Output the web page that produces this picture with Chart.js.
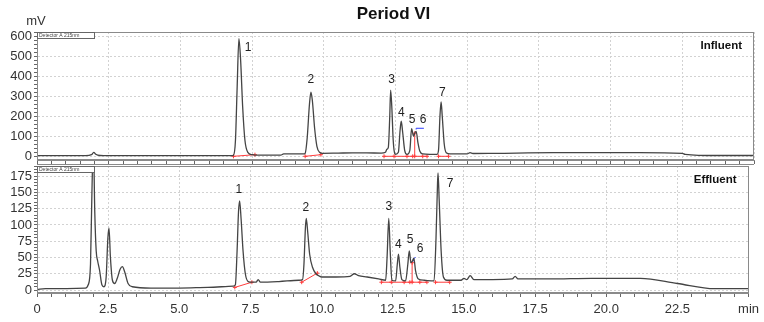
<!DOCTYPE html>
<html>
<head>
<meta charset="utf-8">
<script src="https://cdn.jsdelivr.net/npm/chart.js@4.4.1/dist/chart.umd.min.js"></script>
<style>
    body { margin: 0; background: #fff; }
    #wrap { position: relative; width: 764px; height: 322px; }
    canvas { position: absolute; left: 0; top: 0; }
</style>
</head>
<body>
<div id="wrap">
    <canvas id="effluentChart" width="764" height="322"></canvas>
    <canvas id="influentChart" width="764" height="322"></canvas>
</div>
<script>
// chromatogram traces (time in min, signal in mV)
const influentTime = [0, 1.7, 1.9, 1.98, 2.05, 2.2, 2.5, 6.8,
    6.85, 6.92, 6.98, 7.04, 7.1, 7.17, 7.25, 7.35, 7.5, 7.6, 8.5, 8.6, 9.3,
    9.35, 9.42, 9.5, 9.55, 9.6, 9.68, 9.76, 9.85, 9.95, 10.5, 11.0, 11.5, 12.0, 12.15,
    12.2, 12.25, 12.3, 12.33, 12.37, 12.42, 12.47, 12.5, 12.6, 12.66, 12.7, 12.75, 12.82, 12.9,
    13.0, 13.06, 13.13, 13.17, 13.22, 13.28, 13.35, 13.45, 13.7, 13.95,
    14.0, 14.05, 14.09, 14.13, 14.2, 14.27, 14.4, 15.0, 15.1, 15.2, 16.0, 18.0, 21.0, 22.5, 22.6, 23.7, 25];
const influentSignal = [3, 3, 8, 20, 10, 4, 3, 3,
    5, 80, 350, 588, 480, 250, 80, 20, 8, 6, 6, 12, 12,
    15, 90, 260, 320, 280, 140, 50, 20, 15, 16, 17, 17, 16, 20,
    35, 45, 200, 330, 250, 80, 15, 10, 20, 130, 175, 120, 30, 10,
    30, 138, 100, 115, 125, 70, 25, 12, 10, 10,
    30, 200, 272, 200, 60, 18, 12, 12, 18, 14, 15, 18, 18, 15, 10, 4, 4];

const effluentTime = [0, 0.3, 1.7, 1.8, 1.88, 1.93, 1.98, 2.03, 2.08, 2.13, 2.2, 2.28, 2.35,
    2.43, 2.49, 2.53, 2.58, 2.65, 2.73, 2.82, 2.92, 3.0, 3.08, 3.2, 3.35, 4.0, 5.0, 6.0, 6.9,
    6.97, 7.03, 7.08, 7.12, 7.17, 7.24, 7.32, 7.42, 7.55, 7.7, 7.77, 7.85, 8.5, 9.2, 9.33,
    9.38, 9.43, 9.46, 9.51, 9.58, 9.68, 9.8, 9.9, 10.0, 10.5, 11.0, 11.15, 11.3, 11.6, 12.0, 12.25,
    12.3, 12.36, 12.41, 12.47, 12.6, 12.66, 12.7, 12.75, 12.82, 12.95, 13.03, 13.08, 13.14, 13.2,
    13.24, 13.3, 13.4, 13.6, 13.95, 14.02, 14.07, 14.09, 14.13, 14.2, 14.28, 14.4, 14.9, 15.0,
    15.1, 15.22, 15.35, 16.0, 16.7, 16.8, 16.9, 18.0, 19.5, 21.2, 22.5, 23.8, 25];
const effluentSignal = [1, 2, 3, 8, 40, 150, 230, 120, 60, 45, 30, 8, 5,
    20, 80, 95, 50, 15, 10, 18, 32, 36, 28, 10, 5, 3, 3, 4, 6,
    8, 60, 120, 137, 110, 60, 25, 13, 12, 12, 16, 12, 13, 15, 16,
    40, 95, 110, 90, 55, 35, 25, 22, 20, 20, 21, 25, 22, 20, 17, 15,
    50, 110, 60, 15, 14, 40, 55, 35, 16, 14, 40, 60, 42, 45,
    49, 30, 17, 15, 14, 80, 160, 180, 140, 60, 20, 15, 15, 18,
    16, 22, 16, 16, 17, 21, 17, 17, 18, 18, 10, 2, 2];

// red integration baselines (null breaks the line)
const influentBaseTime = [6.85, 7.6, null, 9.35, 9.9, null, 12.1, 12.45, 12.9, 13.1, 13.45, 13.6, null, 13.17, 13.17, null, 14.0, 14.35];
const influentBaseSignal = [0, 8, null, 0, 8, null, 0, 0, 0, 0, 0, 0, null, 0, 115, null, 0, 0];
const effluentBaseTime = [6.95, 7.55, null, 9.3, 9.85, null, 12.1, 12.45, 12.9, 13.1, 13.45, 13.7, null, 13.18, 13.18, null, 14.0, 14.5];
const effluentBaseSignal = [4, 12, null, 12, 26, null, 12, 12, 12, 12, 12, 12, null, 12, 42, null, 12, 12];

// small blue marks at peak 6
const influentMarkTime = [13.22, 13.22, 13.49];
const influentMarkSignal = [134, 140, 140];
const effluentMarkTime = [13.22, 13.22, 13.3];
const effluentMarkSignal = [44, 48, 50];

// peak numbers and where they sit
const peakLabels = ["1", "2", "3", "4", "5", "6", "7"];
const influentLabelTime = [7.36, 9.55, 12.36, 12.70, 13.08, 13.46, 14.13];
const influentLabelSignal = [543, 381, 383, 218, 181, 181, 318];
const effluentLabelTime = [7.09, 9.45, 12.36, 12.70, 13.11, 13.46, 14.51];
const effluentLabelSignal = [154, 126, 128, 69, 77, 63, 163];

const FONT = "Arial, 'Liberation Sans', sans-serif";

function toPoints(xs, ys) {
    return xs.map((x, i) => ({ x: x, y: ys[i] }));
}

function isMultiple(value, step) {
    return Math.abs(value / step - Math.round(value / step)) < 1e-6;
}

const panelDecor = {
    id: "panelDecor",
    afterDraw(chart, args, opts) {
        const { ctx, chartArea: a, scales } = chart;
        ctx.save();
        ctx.strokeStyle = "#8a8a8a";
        ctx.lineWidth = 1;
        ctx.strokeRect(Math.round(a.left) + 0.5, Math.round(a.top) + 0.5, Math.round(a.width) - 1, Math.round(a.height) - 1);

        // detector tag box
        ctx.fillStyle = "#fff";
        ctx.fillRect(a.left + 1, a.top + 1, 56, 5);
        ctx.strokeStyle = "#666";
        ctx.strokeRect(Math.round(a.left) + 0.5, Math.round(a.top) + 0.5, 57, 6);
        ctx.fillStyle = "#444";
        ctx.font = `5px ${FONT}`;
        ctx.textBaseline = "middle";
        ctx.textAlign = "left";
        ctx.fillText("Detector A 215nm", a.left + 2, a.top + 3.5);

        // peak numbers
        ctx.fillStyle = "#222";
        ctx.font = `12px ${FONT}`;
        ctx.textAlign = "center";
        opts.labelX.forEach((x, i) => {
            ctx.fillText(peakLabels[i], scales.x.getPixelForValue(x), scales.y.getPixelForValue(opts.labelY[i]));
        });

        // panel name
        ctx.font = `bold 11.5px ${FONT}`;
        ctx.textAlign = "right";
        ctx.fillStyle = "#111";
        ctx.fillText(opts.name, a.right - 12, a.top + opts.nameOffset);

        if (opts.top) {
            ctx.font = `bold 17px ${FONT}`;
            ctx.textAlign = "center";
            ctx.fillText("Period VI", a.left + a.width / 2 - 2, 14);
            ctx.font = `13px ${FONT}`;
            ctx.fillStyle = "#333";
            ctx.fillText("mV", 36, 21.5);
            ctx.strokeStyle = "#8a8a8a";
            ctx.beginPath();
            ctx.moveTo(a.left, Math.round(a.bottom) + 4.5);
            ctx.lineTo(a.right, Math.round(a.bottom) + 4.5);
            ctx.stroke();
        }
        ctx.restore();
    },
};

function buildChart(id, cfg) {
    return new Chart(document.getElementById(id), {
        type: "scatter",
        data: {
            datasets: [
                {
                    data: toPoints(cfg.time, cfg.signal),
                    showLine: true,
                    borderColor: "#444",
                    borderWidth: 1.3,
                    pointRadius: 0,
                    cubicInterpolationMode: "monotone",
                },
                {
                    data: toPoints(cfg.baseTime, cfg.baseSignal),
                    showLine: true,
                    spanGaps: false,
                    borderColor: "#ff3b3b",
                    borderWidth: 1,
                    pointRadius: 2,
                    pointStyle: "cross",
                    pointBorderColor: "#ff3b3b",
                },
                {
                    data: toPoints(cfg.markTime, cfg.markSignal),
                    showLine: true,
                    borderColor: "#2b3bff",
                    borderWidth: 1,
                    pointRadius: 0,
                },
            ],
        },
        options: {
            responsive: false,
            animation: false,
            events: [],
            layout: { padding: cfg.padding },
            plugins: {
                legend: { display: false },
                tooltip: { enabled: false },
                panelDecor: cfg.decor,
            },
            scales: {
                x: {
                    type: "linear",
                    min: 0,
                    max: 25,
                    afterFit: (scale) => { scale.height = cfg.xHeight; },
                    ticks: {
                        display: cfg.showX,
                        stepSize: 0.5,
                        autoSkip: false,
                        maxRotation: 0,
                        padding: 5,
                        color: "#333",
                        font: { family: FONT, size: 13 },
                        callback: (value) => {
                            if (!isMultiple(value, 2.5)) return "";
                            if (value === 25) return "min";
                            return value === 0 ? "0" : value.toFixed(1);
                        },
                    },
                    grid: {
                        color: (ctx) => (ctx.tick && isMultiple(ctx.tick.value, 2.5) ? "#d2d2d2" : "rgba(0,0,0,0)"),
                        tickColor: "#666",
                        tickLength: 4,
                    },
                    border: { color: "#8a8a8a", dash: [2, 2] },
                },
                y: {
                    min: cfg.yMin,
                    max: cfg.yMax,
                    afterFit: (scale) => { scale.width = 37; },
                    ticks: {
                        stepSize: cfg.minorStep,
                        includeBounds: false,
                        autoSkip: false,
                        padding: 2,
                        color: "#333",
                        font: { family: FONT, size: 13 },
                        callback: (value) => (isMultiple(value, cfg.majorStep) ? String(value) : ""),
                    },
                    grid: {
                        color: (ctx) => (ctx.tick && isMultiple(ctx.tick.value, cfg.majorStep) ? "#d2d2d2" : "rgba(0,0,0,0)"),
                        tickColor: "#666",
                        tickLength: 3,
                    },
                    border: { color: "#8a8a8a", dash: [2, 2] },
                },
            },
        },
        plugins: [panelDecor],
    });
}

buildChart("effluentChart", {
    time: effluentTime,
    signal: effluentSignal,
    baseTime: effluentBaseTime,
    baseSignal: effluentBaseSignal,
    markTime: effluentMarkTime,
    markSignal: effluentMarkSignal,
    padding: { top: 166, right: 10, bottom: 0, left: 0 },
    xHeight: 29,
    showX: true,
    yMin: -4.6,
    yMax: 190.7,
    minorStep: 5,
    majorStep: 25,
    decor: { name: "Effluent", nameOffset: 14, labelX: effluentLabelTime, labelY: effluentLabelSignal, top: false },
});

buildChart("influentChart", {
    time: influentTime,
    signal: influentSignal,
    baseTime: influentBaseTime,
    baseSignal: influentBaseSignal,
    markTime: influentMarkTime,
    markSignal: influentMarkSignal,
    padding: { top: 32, right: 10, bottom: 158, left: 0 },
    xHeight: 4,
    showX: false,
    yMin: -18.5,
    yMax: 621,
    minorStep: 20,
    majorStep: 100,
    decor: { name: "Influent", nameOffset: 14, labelX: influentLabelTime, labelY: influentLabelSignal, top: true },
});
</script>
</body>
</html>
